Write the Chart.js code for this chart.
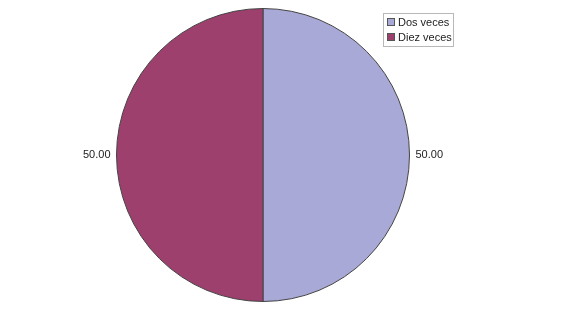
<!DOCTYPE html>
<html>
<head>
<meta charset="utf-8">
<script src="https://cdn.jsdelivr.net/npm/chart.js@4.4.0/dist/chart.umd.min.js"></script>
<style>
    html, body { margin: 0; padding: 0; background: #ffffff; }
    #wrap { width: 566px; height: 331px; position: relative; }
</style>
</head>
<body>
<div id="wrap"><canvas id="pie-chart" width="566" height="331"></canvas></div>
<script>
    var categories = ["Dos veces", "Diez veces"];
    var values = [50.00, 50.00];
    var sliceColors = ["#a9a9d7", "#9d406e"];

    // Value labels beside each slice + boxed legend in the top right
    var sideLabels = {
        id: "sideLabels",
        afterDraw: function (chart) {
            var ctx = chart.ctx;
            var meta = chart.getDatasetMeta(0);
            ctx.save();
            ctx.font = "11px 'Liberation Sans', Arial, sans-serif";
            ctx.fillStyle = "#222222";
            ctx.textBaseline = "middle";
            meta.data.forEach(function (arc, i) {
                var mid = (arc.startAngle + arc.endAngle) / 2;
                var r = arc.outerRadius + 6;
                var x = arc.x + Math.cos(mid) * r;
                var y = arc.y + Math.sin(mid) * r;
                ctx.textAlign = Math.cos(mid) >= 0 ? "left" : "right";
                ctx.fillText(values[i].toFixed(2), x, y);
            });

            // legend
            var lx = 383, ly = 13, lw = 70, lh = 33;
            ctx.fillStyle = "#ffffff";
            ctx.fillRect(lx, ly, lw, lh);
            ctx.strokeStyle = "#b8b8b8";
            ctx.lineWidth = 1;
            ctx.strokeRect(lx + 0.5, ly + 0.5, lw, lh);
            ctx.textAlign = "left";
            categories.forEach(function (name, i) {
                var y = ly + 9 + i * 15;
                ctx.fillStyle = sliceColors[i];
                ctx.fillRect(lx + 4, y - 4, 8, 8);
                ctx.strokeStyle = "#555555";
                ctx.strokeRect(lx + 4.5, y - 3.5, 7, 7);
                ctx.fillStyle = "#222222";
                ctx.fillText(name, lx + 15, y + 1);
            });
            ctx.restore();
        }
    };

    new Chart(document.getElementById("pie-chart").getContext("2d"), {
        type: "pie",
        data: {
            labels: categories,
            datasets: [{
                data: values,
                backgroundColor: sliceColors,
                borderColor: "#444444",
                borderWidth: 1
            }]
        },
        options: {
            responsive: false,
            animation: false,
            layout: { padding: { left: 116, right: 156, top: 7, bottom: 28 } },
            plugins: {
                legend: { display: false },
                tooltip: { enabled: false }
            }
        },
        plugins: [sideLabels]
    });
</script>
</body>
</html>
